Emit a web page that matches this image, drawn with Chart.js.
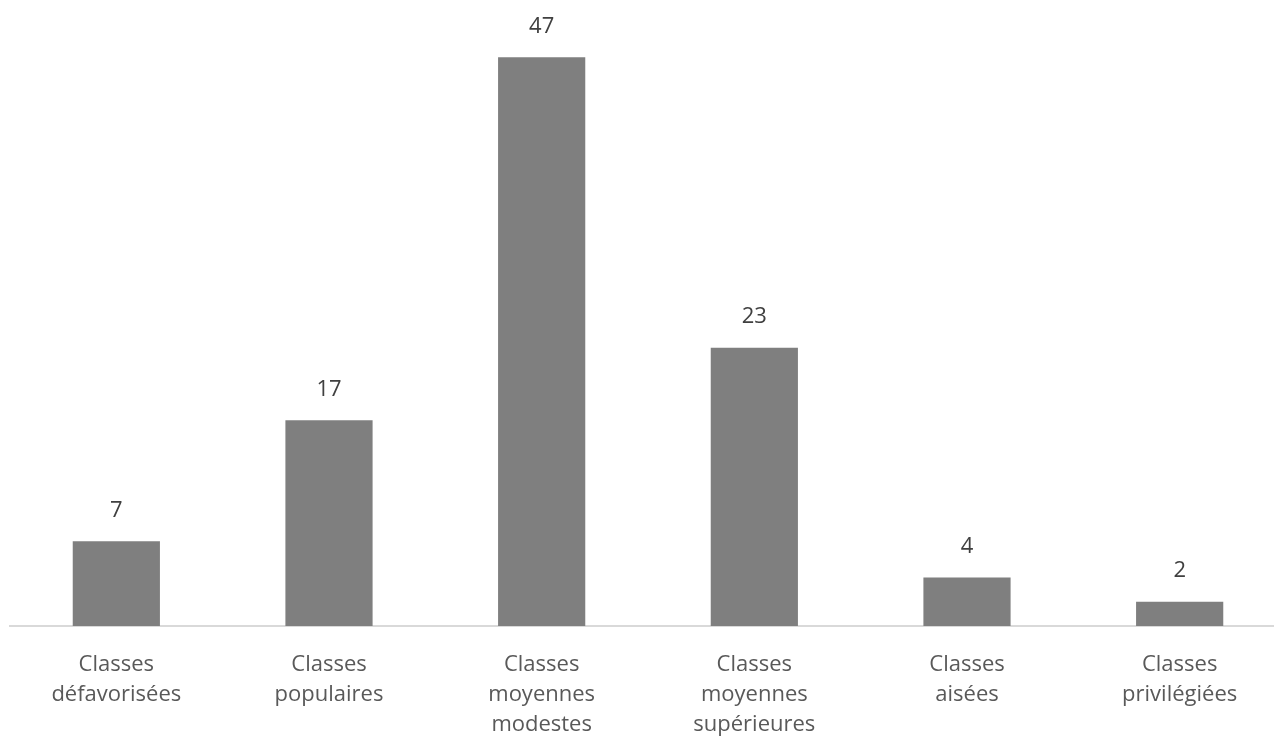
<!DOCTYPE html>
<html>
<head>
<meta charset="utf-8">
<script src="https://cdn.jsdelivr.net/npm/chart.js@4.4.1/dist/chart.umd.min.js"></script>
<style>
    html, body { margin: 0; padding: 0; background: #fff; overflow: hidden; }
    #wrap { width: 1290px; height: 767px; }
</style>
</head>
<body>
<div id="wrap"><canvas id="chart" width="1290" height="767"></canvas></div>
<script>
// Categories (multi-line labels) and values
const categories = [
    ['Classes', 'défavorisées'],
    ['Classes', 'populaires'],
    ['Classes', 'moyennes', 'modestes'],
    ['Classes', 'moyennes', 'supérieures'],
    ['Classes', 'aisées'],
    ['Classes', 'privilégiées']
];
const values = [7, 17, 47, 23, 4, 2];

// draws the value above every bar
const valueLabels = {
    id: 'valueLabels',
    afterDatasetsDraw(chart) {
        const ctx = chart.ctx;
        const meta = chart.getDatasetMeta(0);
        ctx.save();
        ctx.font = '22px "Open Sans", sans-serif';
        ctx.fillStyle = '#404040';
        ctx.textAlign = 'center';
        ctx.textBaseline = 'middle';
        meta.data.forEach((bar, i) => {
            ctx.fillText(values[i], bar.x, bar.y - 31);
        });
        ctx.restore();
    }
};

new Chart(document.getElementById('chart').getContext('2d'), {
    type: 'bar',
    data: {
        labels: categories,
        datasets: [{
            data: values,
            backgroundColor: '#7f7f7f',
            borderWidth: 0,
            categoryPercentage: 1.0,
            barPercentage: 0.41
        }]
    },
    options: {
        responsive: false,
        animation: false,
        layout: { padding: { top: 21, left: 10, right: 4, bottom: 3 } },
        plugins: {
            legend: { display: false },
            tooltip: { enabled: false }
        },
        scales: {
            x: {
                grid: { display: false, drawTicks: false },
                border: { color: '#d9d9d9', width: 2 },
                ticks: {
                    color: '#595959',
                    padding: 24,
                    maxRotation: 0,
                    autoSkip: false,
                    font: { family: '"Open Sans", sans-serif', size: 22, lineHeight: '30px' }
                }
            },
            y: {
                display: false,
                min: 0,
                max: 50
            }
        }
    },
    plugins: [valueLabels]
});
</script>
</body>
</html>
